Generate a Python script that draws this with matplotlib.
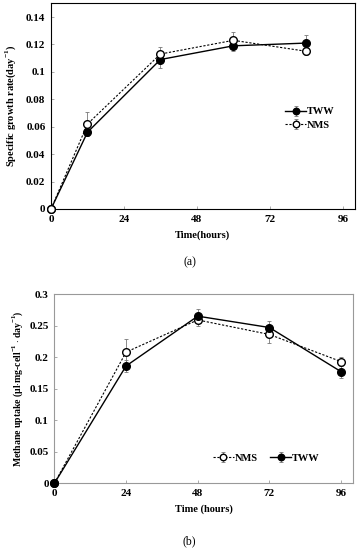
import numpy as np
import matplotlib.pyplot as plt

plt.rcParams['font.family'] = ['Liberation Serif', 'DejaVu Serif']
plt.rcParams['mathtext.fontset'] = 'custom'
plt.rcParams['mathtext.rm'] = 'Liberation Serif'
plt.rcParams['mathtext.bf'] = 'Liberation Serif:bold'

# (a) specific growth rate
time_a = [0, 12, 36, 60, 84]
tww_a = [0, 0.056, 0.109, 0.119, 0.121]
tww_a_err = [0, 0.003, 0.006, 0.004, 0.006]
nms_a = [0, 0.062, 0.113, 0.123, 0.115]
nms_a_err = [0, 0.009, 0.005, 0.006, 0.003]

# (b) methane uptake
time_b = [0, 24, 48, 72, 96]
nms_b = [0, 0.208, 0.259, 0.236, 0.193]
nms_b_err = [0, 0.02, 0.009, 0.013, 0.007]
tww_b = [0, 0.186, 0.265, 0.247, 0.177]
tww_b_err = [0, 0.01, 0.011, 0.011, 0.01]

fig = plt.figure(figsize=(3.58, 5.5), dpi=100)

ms = 5.5
err_kw = dict(ecolor='#777777', elinewidth=0.6, capsize=1.5, capthick=0.6)


def style_ax(ax):
    ax.tick_params(direction='in', length=2, width=0.5, labelsize=8, pad=4, color='#888888')
    for t in ax.get_xticklabels() + ax.get_yticklabels():
        t.set_fontweight('bold')


# ---- top panel
ax1 = fig.add_axes([0.1425, 0.62, 0.849, 0.374])
l1 = ax1.errorbar(time_a, tww_a, yerr=tww_a_err, color='black', lw=1.0, marker='o',
                  ms=ms, mfc='black', mec='black', label='TWW', **err_kw)
l2 = ax1.errorbar(time_a, nms_a, yerr=nms_a_err, color='black', lw=0.8, ls=(0, (2, 1.5)),
                  marker='o', ms=ms, mfc='white', mec='black', label='NMS', **err_kw)
for l in (l1, l2):
    l[0].set_clip_on(False)
    l[0].set_zorder(5)
ax1.set_xlim(0, 100)
ax1.set_ylim(0, 0.15)
ax1.set_xticks([0, 24, 48, 72, 96])
ax1.set_yticks([0, 0.02, 0.04, 0.06, 0.08, 0.1, 0.12, 0.14])
ax1.set_yticklabels(['0', '0.02', '0.04', '0.06', '0.08', '0.1', '0.12', '0.14'])
style_ax(ax1)
ax1.set_xlabel('Time(hours)', fontsize=7.5, fontweight='bold', labelpad=5)
ax1.set_ylabel(r'Specific growth rate(day$^{\mathbf{-1}}$)', fontsize=7.5,
               fontweight='bold', labelpad=6)
for s in ax1.spines.values():
    s.set_linewidth(0.8)
ax1.legend(loc='center left', bbox_to_anchor=(0.74, 0.44), frameon=False,
           handlelength=2.0, handletextpad=0.1, labelspacing=0.4, markerscale=0.85,
           prop={'weight': 'bold', 'size': 7.5})
fig.text(0.53, 0.524, '(a)', fontsize=8.5, ha='center', va='center')

# ---- bottom panel
ax2 = fig.add_axes([0.152, 0.1213, 0.834, 0.344])
l3 = ax2.errorbar(time_b, nms_b, yerr=nms_b_err, color='black', lw=0.8, ls=(0, (2, 1.5)),
                  marker='o', ms=ms, mfc='white', mec='black', label='NMS', **err_kw)
l4 = ax2.errorbar(time_b, tww_b, yerr=tww_b_err, color='black', lw=1.0, marker='o',
                  ms=ms, mfc='black', mec='black', label='TWW', **err_kw)
for l in (l3, l4):
    l[0].set_clip_on(False)
    l[0].set_zorder(5)
ax2.set_xlim(0, 100)
ax2.set_ylim(0, 0.3)
ax2.set_xticks([0, 24, 48, 72, 96])
ax2.set_yticks([0, 0.05, 0.1, 0.15, 0.2, 0.25, 0.3])
ax2.set_yticklabels(['0', '0.05', '0.1', '0.15', '0.2', '0.25', '0.3'])
style_ax(ax2)
ax2.set_xlabel('Time (hours)', fontsize=7.5, fontweight='bold', labelpad=5)
ax2.set_ylabel(r'Methane uptake ($\mathbf{\mu}$l$\cdot$mg-cell$^{\mathbf{-1}}\cdot$day$^{\mathbf{-1}}$)',
               fontsize=7, fontweight='bold', labelpad=3)
for s in ax2.spines.values():
    s.set_linewidth(0.8)
    s.set_color('#999999')
ax2.legend(loc='center', bbox_to_anchor=(0.71, 0.134), ncol=2, frameon=False,
           handlelength=2.0, handletextpad=0.1, columnspacing=1.2, markerscale=0.85,
           prop={'weight': 'bold', 'size': 7.5})
fig.text(0.53, 0.016, '(b)', fontsize=8.5, ha='center', va='center')

fig.savefig('out.png', dpi=100)
